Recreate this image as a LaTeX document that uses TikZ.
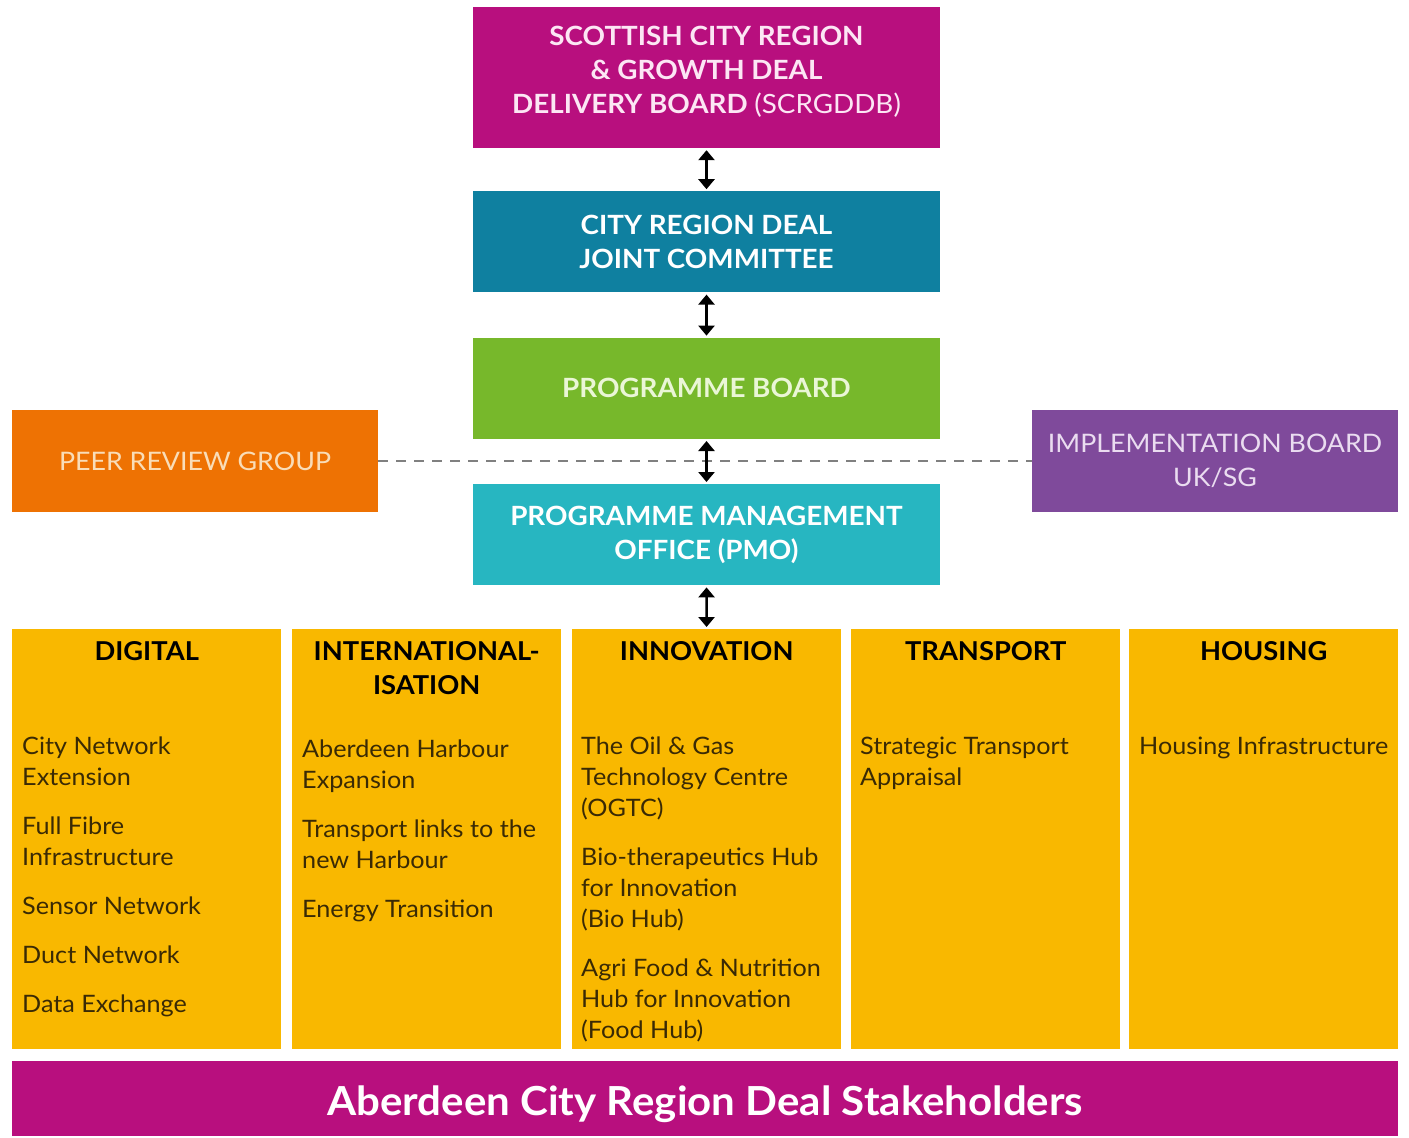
\documentclass[tikz,border=0pt]{standalone}
\usepackage{fontspec}
\setmainfont{Lato}[FakeStretch=1.05]
\usetikzlibrary{positioning,arrows.meta}

\definecolor{dealmagenta}{HTML}{B80F7E}
\definecolor{dealteal}{HTML}{0F80A0}
\definecolor{dealgreen}{HTML}{77B82B}
\definecolor{dealcyan}{HTML}{27B6C1}
\definecolor{dealorange}{HTML}{EE7203}
\definecolor{dealpurple}{HTML}{7F4A9B}
\definecolor{dealyellow}{HTML}{F9B800}
\definecolor{pinktext}{HTML}{FCE6F4}
\definecolor{greentext}{HTML}{EAF6D6}
\definecolor{peertext}{HTML}{F9DDB8}
\definecolor{impltext}{HTML}{EADCF0}
\definecolor{itemtext}{HTML}{3A2A05}

\tikzset{
  govbox/.style={minimum width=467pt, minimum height=101pt, inner sep=0pt, align=center,
    text=white, font=\bfseries\fontsize{26.5}{34}\selectfont},
  sidebox/.style={minimum width=366pt, minimum height=102pt, inner sep=0pt, align=center,
    font=\fontsize{25.5}{34}\selectfont},
  themebox/.style={fill=dealyellow, minimum width=269pt, minimum height=420pt, inner sep=0pt,
    anchor=north west},
  themehead/.style={anchor=base, align=center, text=black, font=\bfseries\fontsize{26}{34}\selectfont},
  themeitems/.style={anchor=north west, align=left, inner sep=0pt, text=itemtext,
    font=\fontsize{24}{31}\selectfont},
  linkarrow/.style={{Triangle[width=16pt,length=10pt]}-{Triangle[width=16pt,length=10pt]},
    line width=2.5pt, shorten <=2pt, shorten >=2pt},
  dashline/.style={draw=gray, line width=2pt, dash pattern=on 10pt off 8pt}
}

\begin{document}
\begin{tikzpicture}[x=1pt, y=-1pt]
  \useasboundingbox (0,0) rectangle (1409,1138);

  % governance chain
  \node[govbox, fill=dealmagenta, minimum height=141pt, text=pinktext] (scrg) at (706.5,77.5)
    {SCOTTISH CITY REGION\\ \& GROWTH DEAL\\ DELIVERY BOARD {\mdseries (SCRGDDB)}\rule[-15pt]{0pt}{15pt}};
  \node[govbox, fill=dealteal, below=43pt of scrg] (joint) {CITY REGION DEAL\\ JOINT COMMITTEE};
  \node[govbox, fill=dealgreen, text=greentext, below=45pt of joint] (board) {PROGRAMME BOARD};
  \node[govbox, fill=dealcyan, below=45pt of board] (pmo) {PROGRAMME MANAGEMENT\\ OFFICE (PMO)};

  % side groups
  \node[sidebox, fill=dealorange, text=peertext] (peer) at (195,461) {PEER REVIEW GROUP};
  \node[sidebox, fill=dealpurple, text=impltext] (impl) at (1215,461) {IMPLEMENTATION BOARD\\ UK/SG};
  \draw[dashline] (peer) -- (impl);

  % themes
  \node[themebox] (digital) at (12,629) {};
  \node[themebox] (intl) at (292,629) {};
  \node[themebox] (innov) at (572,629) {};
  \node[themebox] (transport) at (851,629) {};
  \node[themebox] (housing) at (1129,629) {};

  \node[themehead] (digitalhead) at ([yshift=-31pt]digital.north) {DIGITAL};
  \node[themehead] (intlhead) at ([yshift=-65pt]intl.north) {INTERNATIONAL-\\ ISATION};
  \node[themehead] (innovhead) at ([yshift=-31pt]innov.north) {INNOVATION};
  \node[themehead] (transporthead) at ([yshift=-31pt]transport.north) {TRANSPORT};
  \node[themehead] (housinghead) at ([yshift=-31pt]housing.north) {HOUSING};

  \node[themeitems] (digitalitems) at ([xshift=10pt, yshift=-108pt]digital.north west)
    {City Network\\ Extension\\[18pt] Full Fibre\\ Infrastructure\\[18pt] Sensor Network\\[18pt]
     Duct Network\\[18pt] Data Exchange};
  \node[themeitems] (intlitems) at ([xshift=10pt, yshift=-111pt]intl.north west)
    {Aberdeen Harbour\\ Expansion\\[18pt] Transport links to the\\ new Harbour\\[18pt] Energy Transition};
  \node[themeitems] (innovitems) at ([xshift=9pt, yshift=-108pt]innov.north west)
    {The Oil \& Gas\\ Technology Centre\\ (OGTC)\\[18pt] Bio-therapeutics Hub\\ for Innovation\\ (Bio Hub)\\[18pt]
     Agri Food \& Nutrition\\ Hub for Innovation\\ (Food Hub)};
  \node[themeitems] (transportitems) at ([xshift=9pt, yshift=-108pt]transport.north west)
    {Strategic Transport\\ Appraisal};
  \node[themeitems] (housingitems) at ([xshift=10pt, yshift=-108pt]housing.north west)
    {Housing Infrastructure};

  % stakeholders
  \node[fill=dealmagenta, minimum width=1386pt, minimum height=75pt, inner sep=0pt, anchor=north west,
    text height=36pt, text depth=3pt,
    text=white, font=\bfseries\fontsize{40}{44}\selectfont] (stake) at (12,1061)
    {Aberdeen City Region Deal Stakeholders};

  % links
  \draw[linkarrow] (scrg) -- (joint);
  \draw[linkarrow] (joint) -- (board);
  \draw[linkarrow] (board) -- (pmo);
  \draw[linkarrow] (pmo) -- (innov);
\end{tikzpicture}
\end{document}
